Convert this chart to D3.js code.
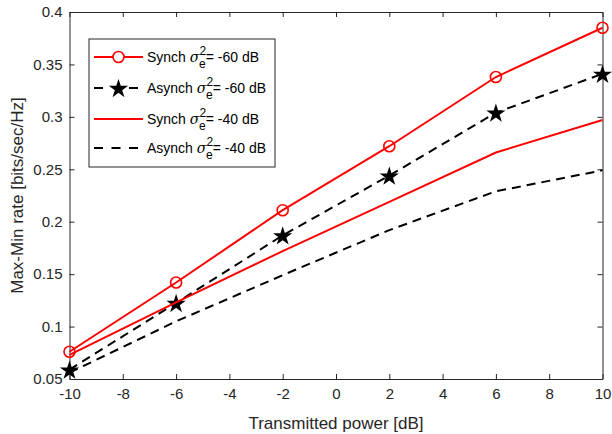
<!DOCTYPE html>
<html>
<head>
<meta charset="utf-8">
<script src="https://cdn.jsdelivr.net/npm/d3@7"></script>
<style>
  body { margin: 0; background: #fff; }
  svg { font-family: "Liberation Sans", Arial, sans-serif; }
</style>
</head>
<body>
<div id="chart"></div>
<script>
// data
var power = [-10, -6, -2, 2, 6, 10];
var synch60 = [0.076, 0.142, 0.211, 0.272, 0.338, 0.385];
var asynch60 = [0.059, 0.1225, 0.187, 0.2440, 0.304, 0.341];
var synch40 = [0.073, 0.123, 0.172, 0.219, 0.266, 0.297];
var asynch40 = [0.056, 0.105, 0.149, 0.192, 0.229, 0.249];
var xTicks = [-10, -8, -6, -4, -2, 0, 2, 4, 6, 8, 10];
var yTicks = [0.05, 0.1, 0.15, 0.2, 0.25, 0.3, 0.35, 0.4];

var series = [
  {name: "Synch", level: "-60", values: synch60, color: "#ff0000", dash: null, marker: "circle"},
  {name: "Asynch", level: "-60", values: asynch60, color: "#000000", dash: "9,6", marker: "star"},
  {name: "Synch", level: "-40", values: synch40, color: "#ff0000", dash: null, marker: null},
  {name: "Asynch", level: "-40", values: asynch40, color: "#000000", dash: "9,6", marker: null}
];

var margin = {top: 12, right: 9.5, bottom: 55, left: 69.5},
    width = 612 - margin.left - margin.right,
    height = 434 - margin.top - margin.bottom;

var svg = d3.select("#chart")
  .append("svg")
    .attr("width", 612)
    .attr("height", 434)
  .append("g")
    .attr("transform", "translate(" + margin.left + "," + margin.top + ")");

var x = d3.scaleLinear().domain([-10, 10]).range([0, width]);
var y = d3.scaleLinear().domain([0.05, 0.4]).range([height, 0]);

var axisColor = "#262626";

// axes: ticks inside, mirrored on top and right
function styleAxis(g) {
  g.select(".domain").attr("stroke", axisColor).attr("stroke-width", 1);
  g.selectAll(".tick line").attr("stroke", axisColor);
  g.selectAll(".tick text").attr("fill", axisColor).style("font-size", "15px")
    .style("font-family", "Liberation Sans, Arial, sans-serif");
}

svg.append("g")
  .attr("transform", "translate(0," + height + ")")
  .call(d3.axisBottom(x).tickValues(xTicks).tickFormat(function(d) { return String(d); })
    .tickSizeInner(-5).tickSizeOuter(0).tickPadding(9))
  .call(styleAxis);

svg.append("g")
  .call(d3.axisLeft(y).tickValues(yTicks).tickFormat(d3.format("")).tickSizeInner(-5).tickSizeOuter(0).tickPadding(7))
  .call(styleAxis);

svg.append("g")
  .call(d3.axisTop(x).tickValues(xTicks).tickFormat("").tickSizeInner(-5).tickSizeOuter(0))
  .call(styleAxis);

svg.append("g")
  .attr("transform", "translate(" + width + ",0)")
  .call(d3.axisRight(y).tickValues(yTicks).tickFormat("").tickSizeInner(-5).tickSizeOuter(0))
  .call(styleAxis);

// axis labels
svg.append("text")
  .attr("x", width / 2)
  .attr("y", height + 50)
  .attr("text-anchor", "middle")
  .attr("fill", axisColor)
  .style("font-size", "17px")
  .text("Transmitted power [dB]");

svg.append("text")
  .attr("transform", "translate(" + (-46.5) + "," + (height / 2) + ") rotate(-90)")
  .attr("text-anchor", "middle")
  .attr("fill", axisColor)
  .style("font-size", "17px")
  .text("Max-Min rate [bits/sec/Hz]");

var line = d3.line()
  .x(function(d, i) { return x(power[i]); })
  .y(function(d) { return y(d); });

var star = d3.symbol().type(d3.symbolStar).size(115);

series.forEach(function(s) {
  svg.append("path")
    .datum(s.values)
    .attr("d", line)
    .attr("fill", "none")
    .attr("stroke", s.color)
    .attr("stroke-width", 2)
    .attr("stroke-dasharray", s.dash);

  if (s.marker == "circle") {
    svg.selectAll(null)
      .data(s.values)
      .enter()
      .append("circle")
        .attr("cx", function(d, i) { return x(power[i]); })
        .attr("cy", function(d) { return y(d); })
        .attr("r", 5.5)
        .attr("fill", "none")
        .attr("stroke", s.color)
        .attr("stroke-width", 1.6);
  } else if (s.marker == "star") {
    svg.selectAll(null)
      .data(s.values)
      .enter()
      .append("path")
        .attr("d", star)
        .attr("transform", function(d, i) { return "translate(" + x(power[i]) + "," + (y(d) + 1) + ")"; })
        .attr("fill", s.color);
  }
});

// legend
var legend = svg.append("g")
  .attr("transform", "translate(" + (89 - margin.left) + "," + (39 - margin.top) + ")");

legend.append("rect")
  .attr("width", 186)
  .attr("height", 128)
  .attr("fill", "#fff")
  .attr("stroke", axisColor)
  .attr("stroke-width", 1);

var rowY = [18, 49, 80, 109];

series.forEach(function(s, i) {
  var row = legend.append("g").attr("transform", "translate(0," + rowY[i] + ")");
  row.append("line")
    .attr("x1", 5).attr("x2", 54)
    .attr("y1", 0).attr("y2", 0)
    .attr("stroke", s.color)
    .attr("stroke-width", 2)
    .attr("stroke-dasharray", s.dash ? "9,8.5" : null);
  if (s.marker == "circle") {
    row.append("circle")
      .attr("cx", 29.5).attr("cy", 0).attr("r", 5.5)
      .attr("fill", "#fff")
      .attr("stroke", s.color)
      .attr("stroke-width", 1.6);
  } else if (s.marker == "star") {
    row.append("rect").attr("x", 19).attr("y", -4).attr("width", 21).attr("height", 8).attr("fill", "#fff");
    row.append("path").attr("d", star).attr("transform", "translate(29.5,1)").attr("fill", s.color);
  }
  var t = row.append("text")
    .attr("x", 58)
    .attr("y", 5)
    .attr("fill", "#000")
    .style("font-size", "14px");
  t.append("tspan").text(s.name + " ");
  t.append("tspan").style("font-family", "DejaVu Serif, serif").style("font-style", "italic").text("\u03c3");
  t.append("tspan").attr("dy", -7).style("font-size", "12px").text("2");
  t.append("tspan").attr("dx", -7).attr("dy", 13).style("font-size", "12px").text("e");
  t.append("tspan").attr("dy", -6).text("= " + s.level + " dB");
});
</script>
</body>
</html>
